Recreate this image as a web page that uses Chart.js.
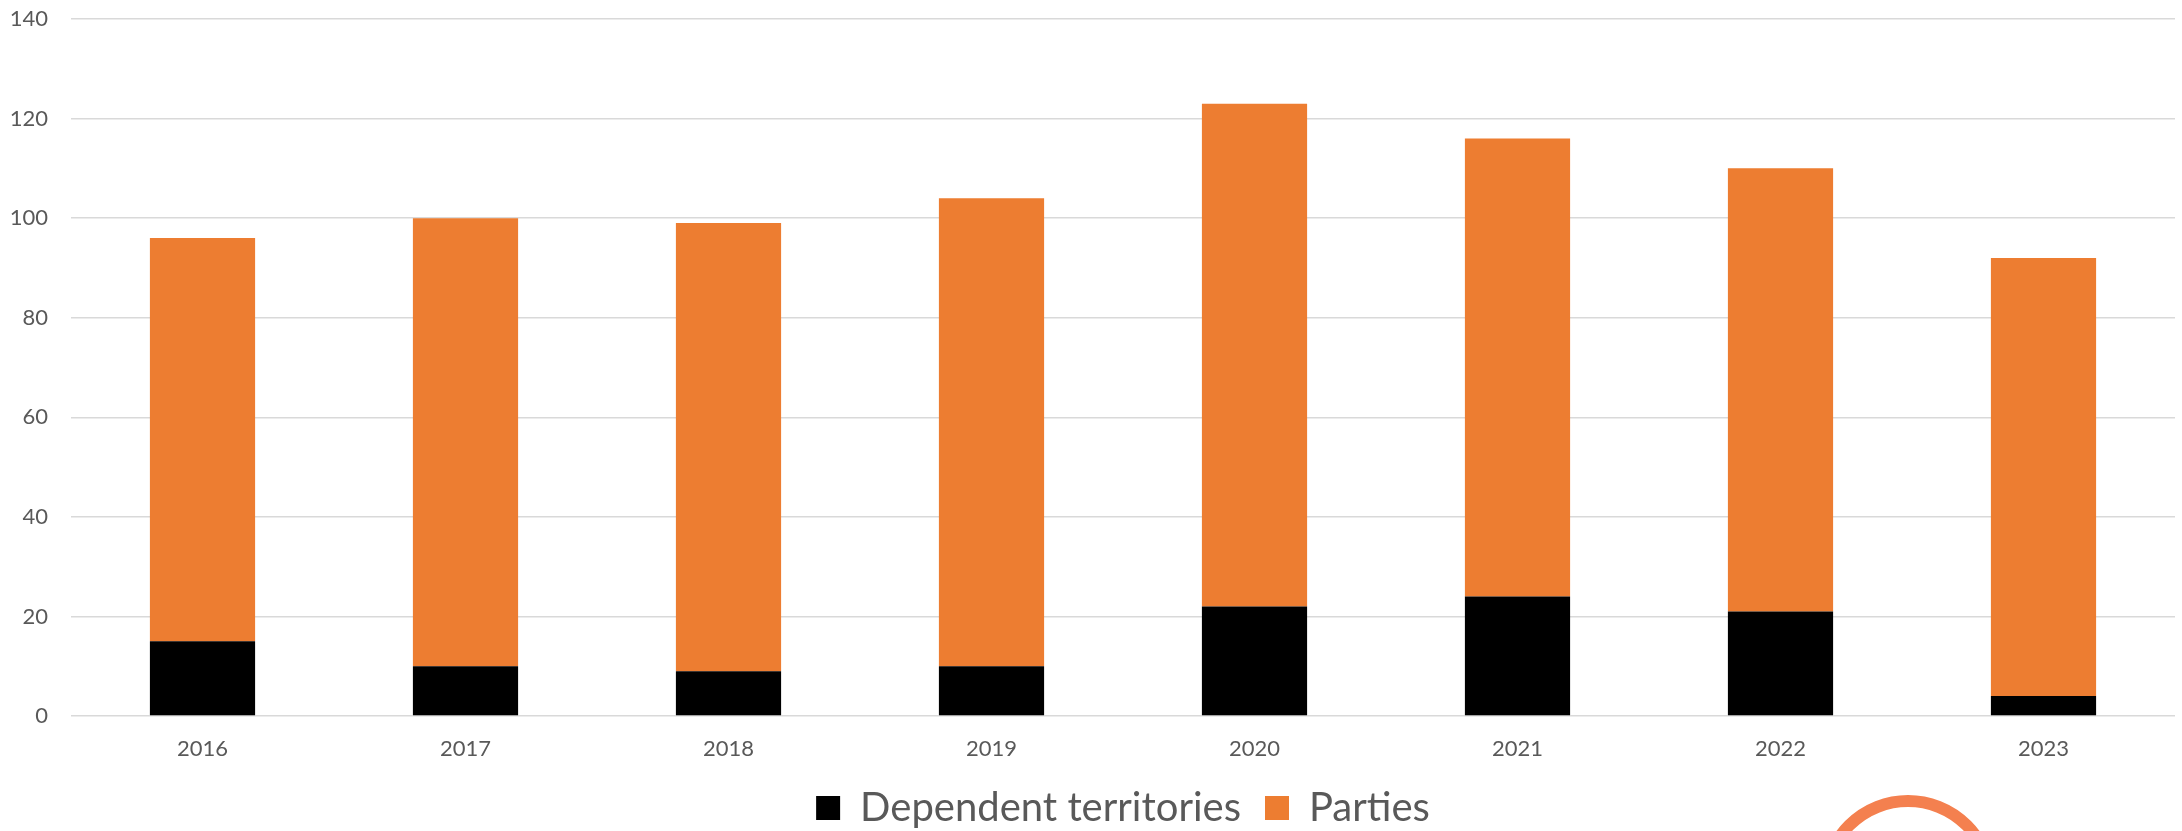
<!DOCTYPE html>
<html>
<head>
<meta charset="utf-8">
<script src="https://cdn.jsdelivr.net/npm/chart.js@4/dist/chart.umd.min.js"></script>
<style>
  html, body { margin: 0; padding: 0; background: #fff; overflow: hidden; }
  #wrap { width: 2182px; height: 831px; position: relative; }
</style>
</head>
<body>
<div id="wrap"><canvas id="chart"></canvas></div>
<script>
const years = ['2016', '2017', '2018', '2019', '2020', '2021', '2022', '2023'];
const dependentTerritories = [15, 10, 9, 10, 22, 24, 21, 4];
const parties = [81, 90, 90, 94, 101, 92, 89, 88];
const yTicks = [0, 20, 40, 60, 80, 100, 120, 140];

const textColor = '#595959';
const gridColor = '#D9D9D9';

// orange ring sitting under the right side of the legend
const ringPlugin = {
    id: 'ring',
    afterDraw(chart) {
        const ctx = chart.ctx;
        ctx.save();
        ctx.beginPath();
        ctx.arc(1908, 884, 83, 0, Math.PI * 2);
        ctx.lineWidth = 12;
        ctx.strokeStyle = '#F4804F';
        ctx.stroke();
        ctx.restore();
    }
};

new Chart(document.getElementById('chart').getContext('2d'), {
    type: 'bar',
    data: {
        labels: years,
        datasets: [
            {
                label: 'Dependent territories',
                data: dependentTerritories,
                backgroundColor: '#000000',
            },
            {
                label: 'Parties',
                data: parties,
                backgroundColor: '#ED7D31',
            }
        ]
    },
    options: {
        responsive: true,
        maintainAspectRatio: false,
        animation: false,
        layout: { padding: { top: 19, right: 7, left: 0, bottom: -7 } },
        datasets: {
            bar: { categoryPercentage: 1, barPercentage: 0.4 }
        },
        scales: {
            x: {
                stacked: true,
                grid: { display: false, drawTicks: false },
                border: { display: false },
                ticks: {
                    color: textColor,
                    font: { family: 'Lato', size: 22 },
                    padding: 20,
                    maxRotation: 0
                },
                afterFit(scale) { scale.height = 48; }
            },
            y: {
                stacked: true,
                min: 0,
                max: 140,
                afterBuildTicks(scale) { scale.ticks = yTicks.map(v => ({ value: v })); },
                // hidden tick marks push the labels away from the grid
                grid: { color: gridColor, lineWidth: 1.5, tickColor: 'rgba(0,0,0,0)', tickLength: 23 },
                border: { display: false },
                ticks: {
                    color: textColor,
                    font: { family: 'Lato', size: 22 },
                    padding: 0
                },
                afterFit(scale) { scale.width = 71; }
            }
        },
        plugins: {
            tooltip: { enabled: false },
            legend: {
                position: 'bottom',
                fullSize: false,
                labels: {
                    color: textColor,
                    font: { family: 'Lato', size: 40 },
                    boxWidth: 24,
                    boxHeight: 24,
                    padding: 24
                }
            }
        }
    },
    plugins: [ringPlugin]
});
</script>
</body>
</html>
